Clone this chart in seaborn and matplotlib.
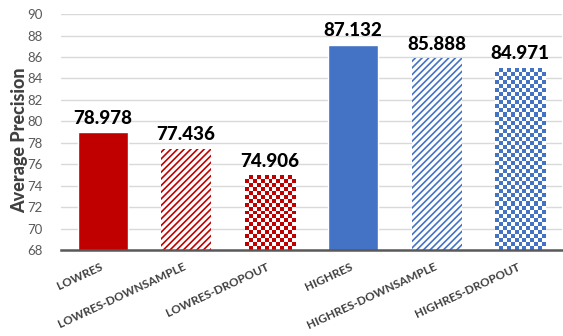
import numpy as np
import pandas as pd
import matplotlib
matplotlib.use("Agg")
import matplotlib.pyplot as plt
import matplotlib.transforms as mtrans
import seaborn as sns

categories = ["LOWRES", "LOWRES-DOWNSAMPLE", "LOWRES-DROPOUT",
              "HIGHRES", "HIGHRES-DOWNSAMPLE", "HIGHRES-DROPOUT"]
values = [78.978, 77.436, 74.906, 87.132, 85.888, 84.971]
value_labels = ["78.978", "77.436", "74.906", "87.132", "85.888", "84.971"]
yticks = [68, 70, 72, 74, 76, 78, 80, 82, 84, 86, 88, 90]

RED = "#C00000"
BLUE = "#4472C4"
colors = [RED, RED, RED, BLUE, BLUE, BLUE]
styles = ["solid", "stripe", "check", "solid", "stripe", "check"]

sns.set_style("white")
plt.rcParams["font.family"] = ["Lato", "DejaVu Sans"]
plt.rcParams["hatch.linewidth"] = 1.2

df = pd.DataFrame({"cat": categories, "val": values})

fig = plt.figure(figsize=(5.63, 3.36), dpi=100)
ax = fig.add_axes([0.108, 0.256, 0.89, 0.702])

sns.barplot(data=df, x="cat", y="val", ax=ax, width=0.6, saturation=1,
            palette=colors, hue="cat", legend=False, zorder=3)

YMIN, YMAX = 68, 90
ax.set_ylim(YMIN, YMAX)
ax.set_xlim(-0.5, 5.5)
ax.set_yticks(yticks)
ax.yaxis.grid(True, color="#D9D9D9", linewidth=1.0, zorder=0)
ax.set_axisbelow(True)
for s in ["left", "right", "top"]:
    ax.spines[s].set_visible(False)
ax.spines["bottom"].set_color("#595959")
ax.spines["bottom"].set_linewidth(1.8)
ax.spines["bottom"].set_zorder(5)
ax.tick_params(axis="both", length=0)
ax.tick_params(axis="y", labelsize=9.5, labelcolor="#595959", pad=13)
ax.set_xlabel("")
ax.set_ylabel("Average Precision", fontsize=13, fontweight="black",
              color="#404040")
ax.yaxis.set_label_coords(-0.066, 0.465)

ax.set_xticks(range(len(categories)))
ax.set_xticklabels(categories, rotation=25, ha="right",
                   rotation_mode="anchor", fontsize=8.5, color="#404040",
                   fontweight="bold")
ax.tick_params(axis="x", pad=8)
shift = mtrans.ScaledTranslation(-3 / 100, 0, fig.dpi_scale_trans)
for lbl in ax.get_xticklabels():
    lbl.set_transform(lbl.get_transform() + shift)

fig.canvas.draw()
patches = ax.patches[:len(categories)]
for p, style, c in zip(patches, styles, colors):
    if style == "stripe":
        p.set_facecolor("white")
        p.set_edgecolor(c)
        p.set_hatch("/////")
        p.set_linewidth(0)
    elif style == "check":
        p.set_facecolor("white")
        p.set_linewidth(0)
        bb = p.get_bbox()
        y0 = max(bb.y0, YMIN)
        pix = ax.transData.transform([[bb.x0, y0], [bb.x1, bb.y1]])
        wpx = abs(pix[1, 0] - pix[0, 0])
        hpx = abs(pix[1, 1] - pix[0, 1])
        nx = max(1, int(round(wpx / 4.0)))
        ny = max(1, int(round(hpx / 4.0)))
        grid = (np.add.outer(np.arange(ny), np.arange(nx)) % 2).astype(float)
        cmap = matplotlib.colors.ListedColormap(["white", c])
        ax.imshow(grid, extent=[bb.x0, bb.x1, y0, bb.y1],
                  origin="upper", cmap=cmap, interpolation="nearest",
                  aspect="auto", zorder=4)

for p, lab in zip(patches, value_labels):
    bb = p.get_bbox()
    ax.annotate(lab, ((bb.x0 + bb.x1) / 2, bb.y1), xytext=(0, 4),
                textcoords="offset points", ha="center", va="bottom",
                fontsize=13.5, fontweight="black", color="black", zorder=6)

ax.set_xlim(-0.5, 5.5)
ax.set_ylim(YMIN, YMAX)
fig.savefig("out.png", dpi=100)
